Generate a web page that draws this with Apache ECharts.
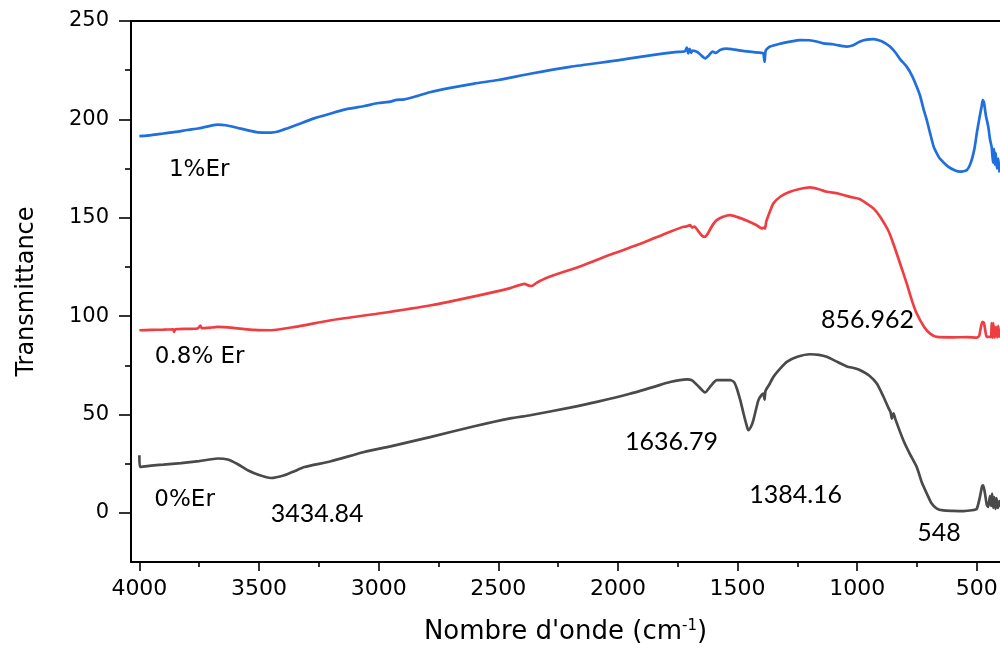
<!DOCTYPE html>
<html>
<head>
<meta charset="utf-8">
<script src="https://cdn.jsdelivr.net/npm/echarts@6/dist/echarts.min.js"></script>
<style>
html,body{margin:0;padding:0;background:#fff;}
#chart{width:1000px;height:649px;}
</style>
</head>
<body>
<div id="chart"></div>
<script>
// ---- data ----
const seriesNames = ['1%Er', '0.8% Er', '0%Er'];

const er1 = [
[4000,191.5],[3950,192.0],[3900,192.8],[3850,193.6],[3800,194.6],[3750,195.5],[3700,196.8],[3672,197.3],[3640,197.0],[3600,196.0],[3550,194.5],[3505,193.4],[3450,193.3],[3420,193.8],[3380,195.5],[3330,197.8],[3270,200.5],[3200,203],[3130,205.3],[3060,206.8],[3000,208.3],[2950,209.0],[2930,209.8],[2892,210.2],[2850,211.5],[2786,213.8],[2700,216],[2600,218.2],[2500,220.0],[2367,223.2],[2200,226.7],[2000,230],[1949,231],[1850,232.8],[1760,234.2],[1720,234.6],[1712,236.5],[1706,233.5],[1700,235.8],[1694,233.8],[1688,235.0],[1675,234.6],[1660,233.5],[1645,231.8],[1636,231],[1620,232.5],[1605,234.5],[1590,233.8],[1573,235.3],[1545,236],[1520,235.6],[1500,235.2],[1450,234.4],[1400,233.8],[1392,233.6],[1387,229.3],[1382,235.0],[1364,237],[1320,238.5],[1280,239.5],[1239,240.3],[1200,240.2],[1170,239.6],[1141,238.6],[1100,238.2],[1060,237.2],[1043,237],[1020,237.5],[990,239.5],[960,240.5],[932,240.8],[900,239.8],[880,238.5],[863,237],[840,234],[820,230.5],[793,226.8],[770,222],[751,216.6],[737,212],[722,205],[709,199.6],[695,192.9],[680,186],[667,182.7],[654,180],[620,176],[590,174],[570,173.4],[542,174.2],[525,178],[510,185],[500,192.9],[490,200],[480,206.5],[475,209.8],[470,208.5],[462,202],[452,196.2],[445,190],[438,186],[435,182],[432,178],[428,185],[425,177],[421,183],[416,175],[410,180],[405,173]
];

const er08 = [
[4000,92.8],[3950,93.0],[3900,93.1],[3858,93.3],[3855,92.0],[3850,93.3],[3800,93.5],[3756,93.7],[3745,95.2],[3740,93.9],[3700,94.2],[3672,94.5],[3600,93.9],[3520,93.0],[3450,92.8],[3350,94.5],[3199,97.9],[3000,101.3],[2781,105.5],[2600,110],[2450,114.2],[2390,116.4],[2375,115.6],[2360,115.3],[2340,116.9],[2297,119.5],[2150,125.6],[2019,131.8],[1900,137],[1800,142],[1726,145.4],[1712,145.6],[1698,146.2],[1690,145.0],[1680,145.5],[1660,142.5],[1648,140.8],[1636,140.3],[1625,141.8],[1615,144],[1600,147],[1587,148.8],[1560,150.5],[1531,151.3],[1500,150.3],[1460,148.5],[1420,146.2],[1399,144.6],[1390,145.0],[1385,144.5],[1380,148],[1365,153],[1350,157.3],[1320,160.8],[1281,163.2],[1240,164.6],[1197,165.4],[1160,164.5],[1127,163.2],[1080,162.3],[1030,160.6],[990,159.5],[961,157.3],[930,154.5],[904,150.5],[870,143.5],[849,136.9],[820,126.5],[793,116.6],[770,107.5],[751,101.3],[720,94.5],[695,91.1],[667,89.4],[600,89.2],[540,89.3],[500,89.1],[490,90],[485,93],[477,97.1],[470,96.5],[465,93],[458,89.4],[445,89.5],[440,89.3],[438,96.5],[434,89],[431,96.4],[425,89],[420,94.5],[415,89.2],[410,95],[405,89]
];

const er0 = [
[4000,29.2],[3998,23.3],[3950,24.0],[3900,24.5],[3826,25.3],[3750,26.3],[3672,27.6],[3631,27.1],[3590,24.8],[3547,21.6],[3500,19.2],[3450,17.7],[3394,19.1],[3350,21.3],[3310,23.3],[3200,26.2],[3060,30.9],[2950,33.8],[2781,38.6],[2600,44],[2450,48],[2367,49.6],[2200,53.5],[2088,56.4],[1950,60.5],[1850,64],[1782,66.5],[1712,67.8],[1690,67.3],[1665,64.5],[1636,61.2],[1610,64.8],[1587,67.4],[1531,67.4],[1515,66.5],[1503,63.2],[1488,57],[1475,50.5],[1462,44.5],[1455,42],[1445,43.5],[1434,47],[1413,57.2],[1400,59.8],[1392,60.6],[1387,57.5],[1383,62.0],[1366,65.5],[1350,69.1],[1320,73.5],[1294,76.7],[1250,79.3],[1197,80.6],[1160,80.3],[1127,79.3],[1080,76.5],[1043,74.4],[1010,73.5],[987,72.5],[950,69.8],[918,65.7],[890,59.0],[870,53.5],[860,51],[855,47.9],[848,50.6],[840,47.5],[807,36.9],[780,30],[751,23.3],[730,15.5],[709,9.8],[690,5],[667,2.1],[640,1.2],[600,1.0],[556,0.9],[520,1.3],[500,2.1],[487,8],[478,13.5],[473,14.0],[466,10],[458,4.0],[452,3.0],[445,8.5],[440,3.5],[436,9.8],[431,2.5],[427,8],[422,2],[418,7.5],[412,2.5],[406,6],[403,3]
];

const sampleLabels = ['1%Er', '0.8% Er', '0%Er'];
const sampleLabelX = [3750, 3748, 3811];
const sampleLabelY = [174, 79, 6.5];

const peakLabels = ['3434.84', '1636.79', '1384.16', '548', '856.962'];
const peakLabelX = [3257, 1776, 1257, 658, 957];
const peakLabelY = [-0.5, 36, 9, -10, 98];

const xMajorTicks = [500, 1000, 1500, 2000, 2500, 3000, 3500, 4000];
const xMinorTicks = [750, 1250, 1750, 2250, 2750, 3250, 3750];
const yMajorTicks = [0, 50, 100, 150, 200, 250];
const yMinorTicks = [25, 75, 125, 175, 225];

// ---- chart ----
const chart = echarts.init(document.getElementById('chart'), null, {renderer: 'canvas'});
const tickFont = 'DejaVu Sans';
const XMIN = 403, XMAX = 4035, YMIN = -25, YMAX = 250;

const colors = ['#1f6fdc', '#ef3e42', '#4a4a4a'];
const curves = [er1, er08, er0];

const series = curves.map((d, i) => ({
  type: 'line', name: seriesNames[i], data: d,
  xAxisIndex: 0, yAxisIndex: 0,
  showSymbol: false, smooth: 0.2,
  lineStyle: {color: colors[i], width: 2.7},
  itemStyle: {color: colors[i]},
  z: 3
}));

function labelSeries(name, texts, xs, ys, font, size) {
  return {
    type: 'scatter', name: name, symbolSize: 0,
    xAxisIndex: 0, yAxisIndex: 0,
    itemStyle: {opacity: 1, color: 'rgba(0,0,0,0)'},
    data: texts.map((t, i) => ({name: t, value: [xs[i], ys[i]]})),
    label: {show: true, position: 'inside', formatter: p => p.name,
      fontFamily: font, fontSize: size, color: '#000', opacity: 1, textBorderWidth: 0},
    emphasis: {disabled: true},
    silent: true, z: 5
  };
}
series.push(labelSeries('sampleLabels', sampleLabels, sampleLabelX, sampleLabelY, tickFont, 23));
series.push(labelSeries('peakLabels', peakLabels, peakLabelX, peakLabelY, 'Lato', 25));

const plain = v => String(v);

const option = {
  animation: false,
  backgroundColor: '#fff',
  grid: {left: 131, top: 21, right: 0, bottom: 87, containLabel: false, outerBoundsMode: 'none'},
  xAxis: [
    {
      type: 'value', position: 'bottom', inverse: true, min: XMIN, max: XMAX,
      name: 'Nombre d\'onde (cm{sup|-1})', nameLocation: 'middle', nameGap: 57,
      nameTextStyle: {fontFamily: tickFont, fontSize: 26, color: '#000',
        rich: {sup: {fontFamily: tickFont, fontSize: 15, color: '#000', verticalAlign: 'top', padding: [0, 0, 12, 0]}}},
      axisLine: {show: true, onZero: false, lineStyle: {color: '#000', width: 2}},
      axisTick: {show: true, inside: false, length: 9, customValues: xMajorTicks, lineStyle: {color: '#000', width: 1.6}},
      axisLabel: {show: true, customValues: xMajorTicks, formatter: plain, fontFamily: tickFont, fontSize: 22, color: '#000', margin: 16, hideOverlap: false},
      splitLine: {show: false}
    },
    {
      type: 'value', position: 'bottom', inverse: true, min: XMIN, max: XMAX,
      axisLine: {show: false, onZero: false},
      axisTick: {show: true, inside: false, length: 5, customValues: xMinorTicks, lineStyle: {color: '#000', width: 1.6}},
      axisLabel: {show: false},
      splitLine: {show: false}
    },
    {
      type: 'value', position: 'top', inverse: true, min: XMIN, max: XMAX,
      axisLine: {show: true, onZero: false, lineStyle: {color: '#000', width: 2}},
      axisTick: {show: false}, axisLabel: {show: false}, splitLine: {show: false}
    }
  ],
  yAxis: [
    {
      type: 'value', position: 'left', min: YMIN, max: YMAX,
      name: 'Transmittance', nameLocation: 'middle', nameGap: 92, nameRotate: 90,
      nameTextStyle: {fontFamily: tickFont, fontSize: 24, color: '#000'},
      axisLine: {show: true, onZero: false, lineStyle: {color: '#000', width: 2}},
      axisTick: {show: true, inside: false, length: 12, customValues: yMajorTicks, lineStyle: {color: '#000', width: 1.6}},
      axisLabel: {show: true, customValues: yMajorTicks, formatter: plain, fontFamily: tickFont, fontSize: 21, color: '#000', margin: 22},
      splitLine: {show: false}
    },
    {
      type: 'value', position: 'left', min: YMIN, max: YMAX,
      axisLine: {show: false, onZero: false},
      axisTick: {show: true, inside: false, length: 6, customValues: yMinorTicks, lineStyle: {color: '#000', width: 1.6}},
      axisLabel: {show: false},
      splitLine: {show: false}
    }
  ],
  series: series
};
chart.setOption(option);
</script>
</body>
</html>
